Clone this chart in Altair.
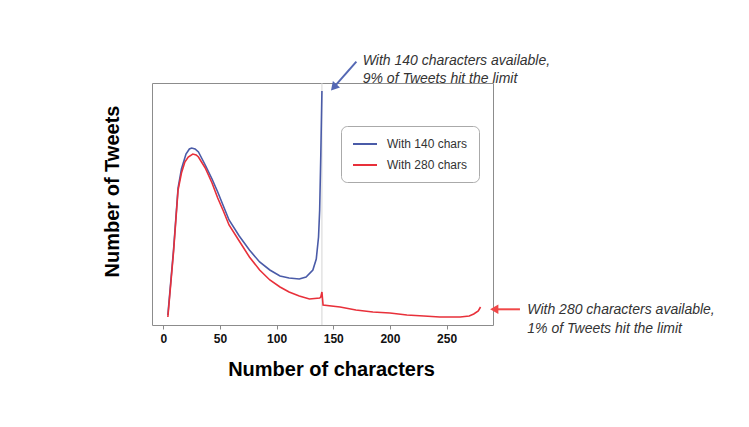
import altair as alt
import pandas as pd

# tweet length distributions (arbitrary units)
chars_140 = [4, 9, 13, 16, 20, 23, 25, 28, 31, 37, 43, 48, 53, 58, 67, 76, 85, 94,
             103, 111, 120, 126, 132, 135, 137, 138, 139, 140]
tweets_140 = [10, 75, 137, 156, 171, 176, 177, 176, 173, 160, 146, 133, 119, 105, 89, 75, 63, 55,
              49, 47, 46, 48, 55, 66, 88, 115, 170, 234]

chars_280 = [4, 9, 13, 16, 19, 22, 26, 29, 31, 37, 43, 48, 53, 58, 67, 76, 85, 94,
             103, 111, 120, 129, 138, 139, 140, 141, 156, 170, 185, 200, 215, 230, 244,
             262, 270, 274, 278, 280]
tweets_280 = [8, 73, 135, 152, 163, 168, 171, 170, 168, 157, 142, 127, 114, 100, 84, 68, 55, 45,
              38, 33, 29, 26, 27, 28, 33, 20, 18, 15, 13, 12, 10, 9, 8,
              8, 9, 11, 14, 18]

series = ["With 140 chars", "With 280 chars"]
colors = ["#4a5ba8", "#e8303a"]
x_ticks = [0, 50, 100, 150, 200, 250]
limit_140 = 140

notes = ["With 140 characters available,\n9% of Tweets hit the limit",
         "With 280 characters available,\n1% of Tweets hit the limit"]

FONT = "Liberation Sans"

df = pd.concat([
    pd.DataFrame({"chars": chars_140, "tweets": tweets_140, "series": series[0]}),
    pd.DataFrame({"chars": chars_280, "tweets": tweets_280, "series": series[1]}),
])

x_scale = alt.Scale(domain=[-10, 291], nice=False, zero=False)
y_scale = alt.Scale(domain=[0, 242], nice=False, zero=False)

lines = alt.Chart(df).mark_line(strokeWidth=1.6).encode(
    x=alt.X("chars:Q", scale=x_scale, title="Number of characters",
            axis=alt.Axis(values=x_ticks, grid=False, domain=False, tickColor="#888",
                          tickSize=4, labelFont=FONT, labelFontWeight="bold",
                          labelFontSize=12, labelColor="#111", labelPadding=4,
                          titleFont=FONT, titleFontSize=20, titleFontWeight="bold",
                          titleColor="black", titlePadding=15, titleX=179)),
    y=alt.Y("tweets:Q", scale=y_scale, title="Number of Tweets",
            axis=alt.Axis(labels=False, ticks=False, domain=False, grid=False,
                          titleFont=FONT, titleFontSize=20, titleFontWeight="bold",
                          titleColor="black", titlePadding=30, titleY=108)),
    color=alt.Color("series:N", scale=alt.Scale(domain=series, range=colors),
                    legend=alt.Legend(title=None, orient="none", legendX=189, legendY=43,
                                      symbolType="M-1,0H3", symbolSize=144,
                                      symbolStrokeWidth=2, labelFont=FONT, labelFontSize=12,
                                      labelColor="#333", labelOffset=21, rowPadding=8,
                                      padding=11, cornerRadius=6, strokeColor="#aaa",
                                      fillColor="white")),
)

limit_rule = alt.Chart(pd.DataFrame({"chars": [limit_140]})).mark_rule(
    color="#d4d4d4", strokeWidth=1
).encode(x=alt.X("chars:Q", scale=x_scale))

# annotation arrows and texts, placed in data units
blue_shaft = alt.Chart(pd.DataFrame({"chars": [170.4], "chars2": [151.2],
                                     "tweets": [263.3], "tweets2": [238.7]})).mark_rule(
    color="#5468b4", strokeWidth=2
).encode(x="chars:Q", x2="chars2", y="tweets:Q", y2="tweets2")

blue_head = alt.Chart(pd.DataFrame({"chars": [151.2], "tweets": [238.7]})).mark_point(
    shape="triangle", filled=True, opacity=1, size=90, angle=221.5, color="#5468b4"
).encode(x="chars:Q", y="tweets:Q")

red_shaft = alt.Chart(pd.DataFrame({"chars": [314.8], "chars2": [292.1],
                                    "tweets": [15.7], "tweets2": [15.7]})).mark_rule(
    color="#f04848", strokeWidth=2
).encode(x="chars:Q", x2="chars2", y="tweets:Q", y2="tweets2")

red_head = alt.Chart(pd.DataFrame({"chars": [292.1], "tweets": [15.7]})).mark_point(
    shape="triangle-left", filled=True, opacity=1, size=90, color="#f04848"
).encode(x="chars:Q", y="tweets:Q")

note_text = alt.Chart(pd.DataFrame({"chars": [176, 321.3], "tweets": [264.2, 15],
                                    "note": notes})).mark_text(
    align="left", baseline="middle", font=FONT, fontStyle="italic", fontSize=14,
    lineHeight=18.5, lineBreak="\n", color="#333"
).encode(x="chars:Q", y="tweets:Q", text="note:N")

chart = alt.layer(
    limit_rule, lines, blue_shaft, blue_head, red_shaft, red_head, note_text
).properties(
    width=341, height=242,
    autosize=alt.AutoSizeParams(type="none"),
    padding={"left": 144, "top": 75, "right": 248, "bottom": 94},
).configure(
    background="white"
).configure_view(
    stroke="#8c8c8c", strokeWidth=1
)

chart.save("out.html", embed_options={"renderer": "svg", "actions": False})
